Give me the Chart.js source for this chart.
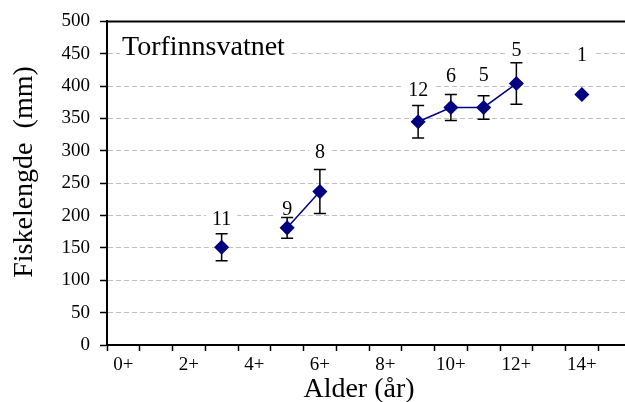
<!DOCTYPE html>
<html lang="no">
<head>
  <meta charset="utf-8" />
  <title>Torfinnsvatnet - fiskelengde</title>
  <script src="https://cdn.jsdelivr.net/npm/chart.js"></script>
  <style>
    * { box-sizing: border-box; margin: 0; padding: 0; }
    body { background: #fff; width: 625px; height: 402px; overflow: hidden; }
    /* plot runs a few px past the right edge, like the original */
    .chart-box { position: relative; width: 631px; height: 402px; }
  </style>
</head>
<body>
  <div class="chart-box"><canvas id="lengthChart"></canvas></div>

  <script>
    const ageLabels = ['0+', '1+', '2+', '3+', '4+', '5+', '6+', '7+', '8+', '9+', '10+', '11+', '12+', '13+', '14+', '15+'];
    const ages = [3, 5, 6, 9, 10, 11, 12, 14];
    const meanLength = [151, 181, 237, 345, 367, 367, 404, 387];
    const errLength = [21, 16, 34, 25, 20, 18, 32, 0];
    const fishCount = [11, 9, 8, 12, 6, 5, 5, 1];
    const yTicks = [0, 50, 100, 150, 200, 250, 300, 350, 400, 450, 500];

    const SERIF = "'Liberation Serif', 'Times New Roman', serif";
    const NAVY = '#000080';

    // mean per age slot, null where no fish -> line breaks there
    const series = ageLabels.map((_, i) => {
      const k = ages.indexOf(i);
      return k < 0 ? null : meanLength[k];
    });

    // label lift above the error bar top, px
    const labelLift = [14, 8, 17, 15, 18, 20, 12, 39];

    const labelsAndFrame = {
      id: 'labelsAndFrame',
      beforeDatasetsDraw(chart) {
        const { ctx, chartArea: a, scales: { x, y } } = chart;
        ctx.save();

        // top frame line
        ctx.strokeStyle = '#000';
        ctx.lineWidth = 2;
        ctx.beginPath();
        ctx.moveTo(a.left - 1, a.top);
        ctx.lineTo(a.right, a.top);
        ctx.stroke();

        // lake name
        ctx.font = `28px ${SERIF}`;
        const tw = ctx.measureText('Torfinnsvatnet').width;
        ctx.fillStyle = '#fff';
        ctx.fillRect(120, 32, tw + 8, 28);
        ctx.fillStyle = '#000';
        ctx.textAlign = 'left';
        ctx.textBaseline = 'alphabetic';
        ctx.fillText('Torfinnsvatnet', 122, 55);

        // n above each point
        ctx.font = `20px ${SERIF}`;
        ctx.textAlign = 'center';
        ctx.textBaseline = 'middle';
        ages.forEach((age, i) => {
          const px = x.getPixelForValue(age);
          const py = y.getPixelForValue(meanLength[i] + errLength[i]) - labelLift[i];
          const txt = String(fishCount[i]);
          const w = ctx.measureText(txt).width + 12;
          ctx.fillStyle = '#fff';
          ctx.fillRect(px - w / 2, py - 8, w, 16);
          ctx.fillStyle = '#000';
          ctx.fillText(txt, px, py);
        });
        ctx.restore();
      }
    };

    const errorBars = {
      id: 'errorBars',
      beforeDatasetsDraw(chart) {
        const { ctx, scales: { x, y } } = chart;
        ctx.save();
        ctx.strokeStyle = '#000';
        ctx.lineWidth = 1.5;
        ages.forEach((age, i) => {
          if (!errLength[i]) return;
          const px = x.getPixelForValue(age);
          const top = y.getPixelForValue(meanLength[i] + errLength[i]);
          const bot = y.getPixelForValue(meanLength[i] - errLength[i]);
          ctx.beginPath();
          ctx.moveTo(px, top); ctx.lineTo(px, bot);
          ctx.moveTo(px - 6, top); ctx.lineTo(px + 6, top);
          ctx.moveTo(px - 6, bot); ctx.lineTo(px + 6, bot);
          ctx.stroke();
        });
        ctx.restore();
      }
    };

    // axis titles, placed like the original (x title centred on the visible width)
    const axisTitles = {
      id: 'axisTitles',
      afterDraw(chart) {
        const { ctx } = chart;
        ctx.save();
        ctx.fillStyle = '#000';
        ctx.font = `28px ${SERIF}`;
        ctx.textAlign = 'center';
        ctx.textBaseline = 'alphabetic';
        ctx.fillText('Alder (år)', 359, 397);

        ctx.translate(25, 172);
        ctx.rotate(-Math.PI / 2);
        ctx.textBaseline = 'middle';
        ctx.fillText('Fiskelengde  (mm)', 0, 0);
        ctx.restore();
      }
    };

    new Chart('lengthChart', {
      type: 'line',
      data: {
        labels: ageLabels,
        datasets: [{
          data: series,
          borderColor: NAVY,
          backgroundColor: NAVY,
          borderWidth: 1.5,
          pointStyle: 'rectRot',
          pointRadius: 6.5,
          pointBackgroundColor: NAVY,
          pointBorderColor: NAVY,
          spanGaps: false,
          tension: 0
        }]
      },
      options: {
        responsive: true,
        maintainAspectRatio: false,
        animation: false,
        layout: { autoPadding: false, padding: { top: 16, right: 0, left: 0, bottom: 0 } },
        plugins: { legend: { display: false }, tooltip: { enabled: false } },
        scales: {
          x: {
            offset: true,
            grid: { drawOnChartArea: false, offset: true, tickColor: '#000', tickLength: 6, tickWidth: 1.5 },
            border: { color: '#000', width: 2 },
            ticks: {
              autoSkip: false,
              maxRotation: 0,
              color: '#000',
              padding: 3,
              font: { family: SERIF, size: 19 },
              callback: (v, i) => (i % 2 ? '' : ageLabels[i])
            },
            afterFit: s => { s.height = 57; s.paddingLeft = 0; s.paddingRight = 0; }
          },
          y: {
            min: 0,
            max: 500,
            afterBuildTicks: s => { s.ticks = yTicks.map(v => ({ value: v })); },
            grid: {
              color: c => (c.tick.value === 0 || c.tick.value === 500) ? 'rgba(0,0,0,0)' : '#c0c0c0',
              lineWidth: 1,
              tickColor: '#000',
              tickLength: 7,
              tickWidth: 1.5
            },
            border: { color: '#000', width: 2, dash: [5, 3] },
            ticks: {
              color: '#000',
              padding: 10,
              font: { family: SERIF, size: 19 }
            },
            afterFit: s => { s.width = 107; }
          }
        }
      },
      plugins: [labelsAndFrame, errorBars, axisTitles]
    });
  </script>
</body>
</html>
